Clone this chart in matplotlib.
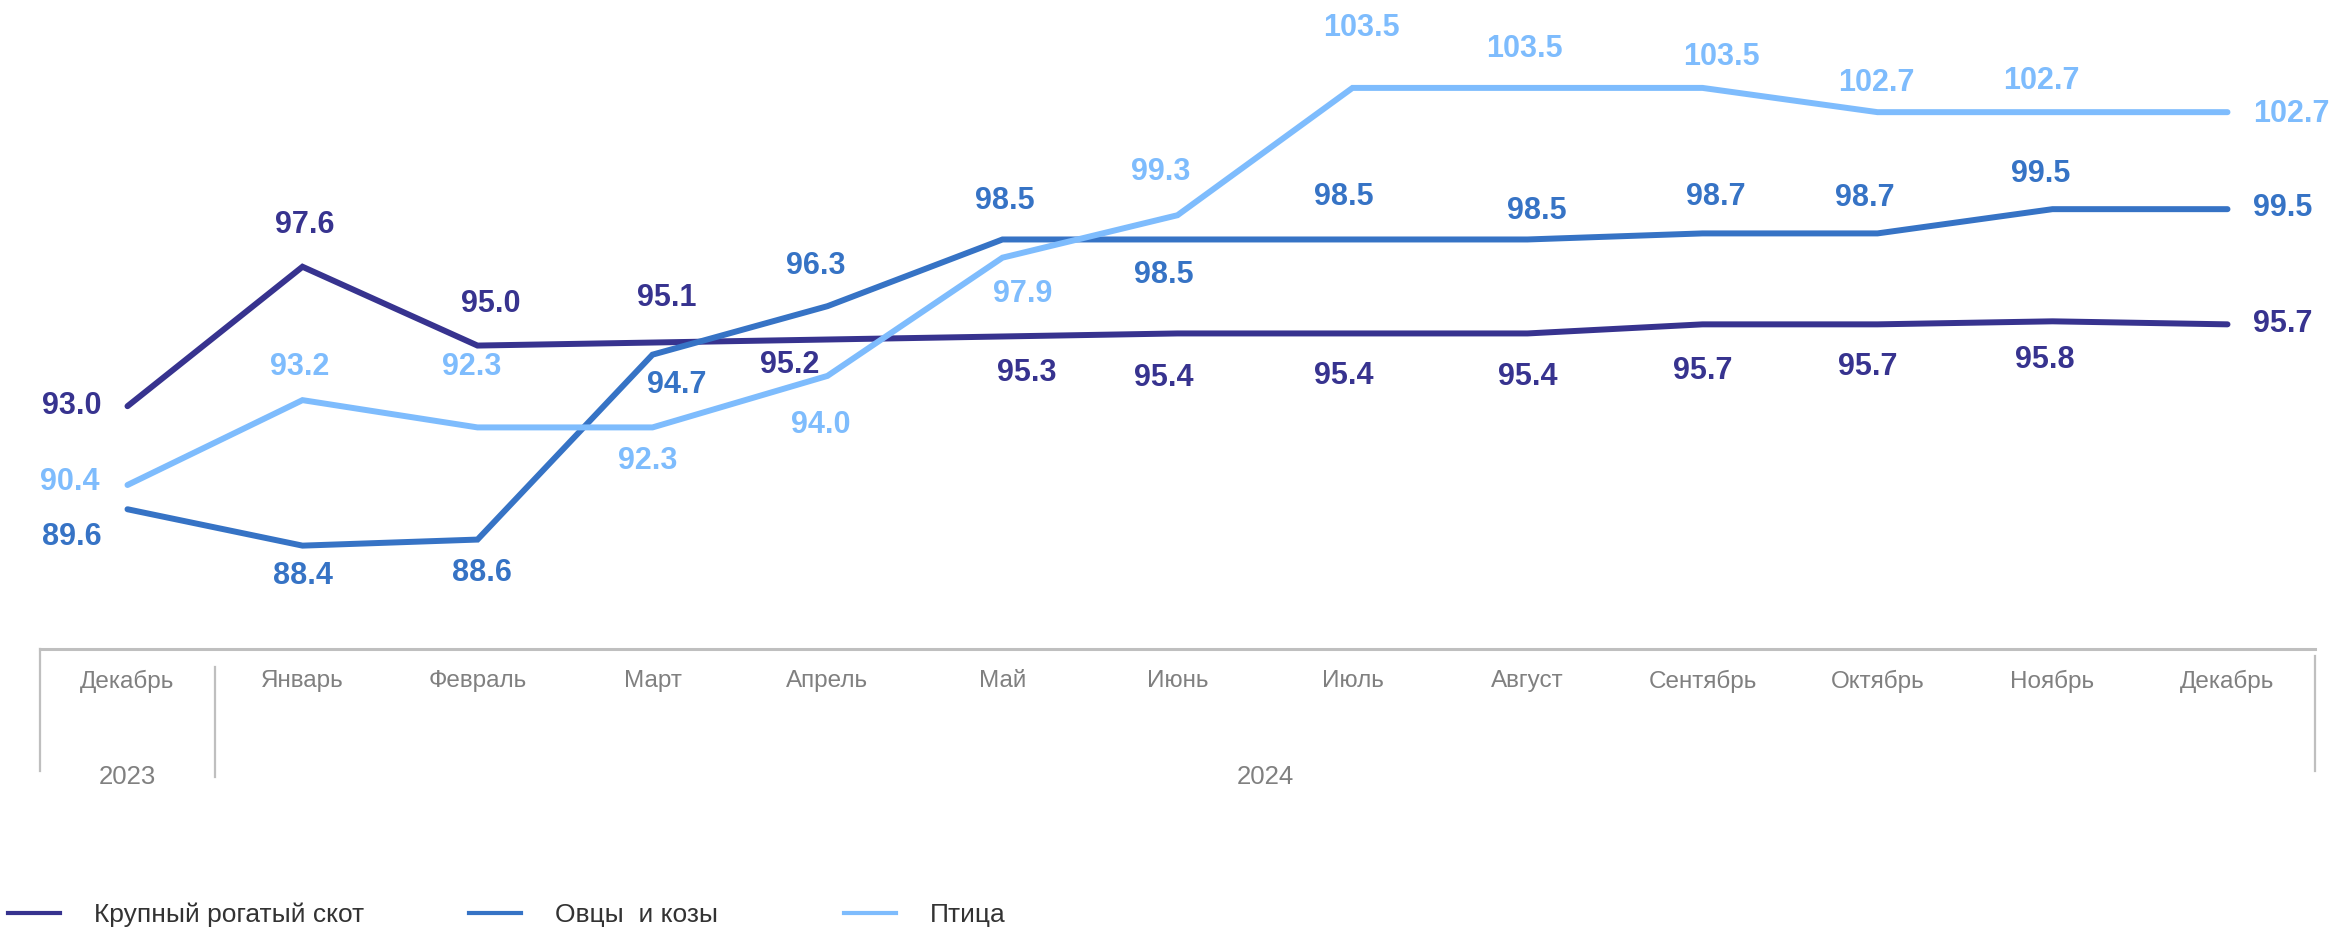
import matplotlib
matplotlib.use("Agg")
import matplotlib.pyplot as plt
from matplotlib.lines import Line2D

plt.rcParams['font.family'] = ['Liberation Sans', 'DejaVu Sans']

months = ["Декабрь", "Январь", "Февраль", "Март", "Апрель", "Май", "Июнь",
          "Июль", "Август", "Сентябрь", "Октябрь", "Ноябрь", "Декабрь"]
years = ["2023", "2024"]
series_names = ["Крупный рогатый скот", "Овцы  и козы", "Птица"]
krs = [93.0, 97.6, 95.0, 95.1, 95.2, 95.3, 95.4, 95.4, 95.4, 95.7, 95.7, 95.8, 95.7]
ovcy = [89.6, 88.4, 88.6, 94.7, 96.3, 98.5, 98.5, 98.5, 98.5, 98.7, 98.7, 99.5, 99.5]
ptica = [90.4, 93.2, 92.3, 92.3, 94.0, 97.9, 99.3, 103.5, 103.5, 103.5, 102.7, 102.7, 102.7]

colors = ['#37338F', '#3673C5', '#7EBCFD']

# label offsets in pixels (dx right, dy down)
off_krs = [(-26, 0), (2, -42), (13, -42), (14, -45), (-38, 25), (24, 37), (-14, 45),
           (-9, 43), (0, 44), (0, 47), (-10, 43), (-8, 39), (26, 0)]
off_ovcy = [(-26, 28), (0, 30), (4, 33), (24, 30), (-12, -40), (2, -38), (-14, 36),
            (-9, -42), (9, -28), (13, -36), (-13, -35), (-12, -35), (26, -1)]
off_ptica = [(-28, -3), (-3, -33), (-6, -60), (-5, 34), (-7, 49), (20, 36), (-17, -43),
             (9, -60), (-3, -39), (19, -31), (-1, -29), (-11, -31), (26, 2)]

W, H = 2339, 930
fig = plt.figure(figsize=(W / 100, H / 100), dpi=100)
ax = fig.add_axes([40 / W, (H - 649) / H, 2275 / W, 649 / H])

x = list(range(len(months)))
all_series = [krs, ovcy, ptica]
all_offs = [off_krs, off_ovcy, off_ptica]
for vals, offs, c in zip(all_series, all_offs, colors):
    ax.plot(x, vals, color=c, lw=4.3, solid_capstyle='round', solid_joinstyle='miter')
    n = len(vals)
    for i, (v, (dx, dy)) in enumerate(zip(vals, offs)):
        if i == 0:
            ha = 'right'
        elif i == n - 1:
            ha = 'left'
        else:
            ha = 'center'
        ax.annotate(f"{v:.1f}", (i, v), xytext=(dx, -dy), textcoords='offset pixels',
                    ha=ha, va='center', fontsize=22, fontweight='bold', color=c,
                    annotation_clip=False)

ax.set_xlim(-0.5, 12.5)
ax.set_ylim(84.99, 106.4)
for s in ['top', 'left', 'right']:
    ax.spines[s].set_visible(False)
ax.spines['bottom'].set_color('#BFBFBF')
ax.spines['bottom'].set_linewidth(2.2)
ax.set_yticks([])
ax.set_xticks([])

tr = ax.get_xaxis_transform()
for i, m in enumerate(months):
    ax.text(i, (649 - 681) / 649, m, transform=tr, ha='center', va='center',
            fontsize=17.5, color='#808080')
ax.text(0, (649 - 777) / 649, years[0], transform=tr, ha='center', va='center',
        fontsize=18.5, color='#808080')
ax.text(6.5, (649 - 777) / 649, years[1], transform=tr, ha='center', va='center',
        fontsize=18.5, color='#808080')

sep = [(-0.5, 649, 771), (0.5, 667, 777), (12.5, 656, 771)]
for sx, y0, y1 in sep:
    ax.plot([sx, sx], [(649 - y0) / 649, (649 - y1) / 649], transform=tr,
            color='#BFBFBF', lw=1.6, clip_on=False)

leg_x = [8, 469, 844]
for name, c, lx in zip(series_names, colors, leg_x):
    h = Line2D([], [], color=c, lw=3)
    fig.legend([h], [name], loc='center left', bbox_to_anchor=(lx / W, 1 - 915 / H),
               frameon=False, fontsize=19, handlelength=1.97, handletextpad=1.3,
               borderpad=0, borderaxespad=0, labelcolor='#333333')

fig.savefig('out.png', dpi=100)
